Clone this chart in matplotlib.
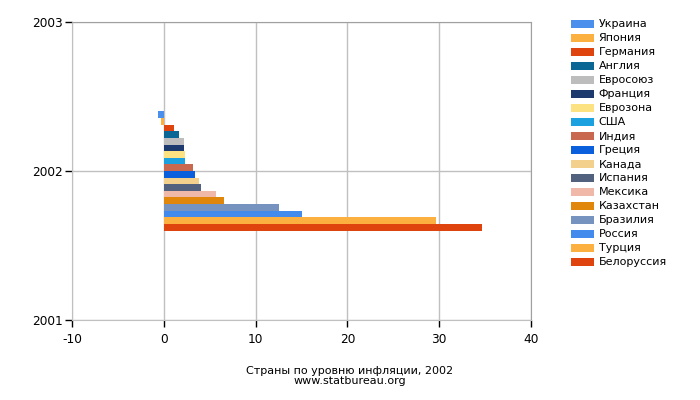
import matplotlib
matplotlib.use("Agg")
import matplotlib.pyplot as plt
from matplotlib.patches import Patch

countries = ["Украина", "Япония", "Германия", "Англия", "Евросоюз", "Франция",
             "Еврозона", "США", "Индия", "Греция", "Канада", "Испания",
             "Мексика", "Казахстан", "Бразилия", "Россия", "Турция", "Белоруссия"]
values = [-0.6, -0.3, 1.1, 1.7, 2.2, 2.2, 2.3, 2.3, 3.2, 3.4, 3.8, 4.0,
          5.7, 6.6, 12.5, 15.1, 29.7, 34.7]
colors = ["#4a8fec", "#fbb040", "#e0440e", "#0a6694", "#bdbdbd", "#1c3a6e",
          "#fde282", "#1ba0e0", "#c8694f", "#0a5fdc", "#f3d08c", "#52627e",
          "#f0b8a8", "#e0860a", "#7693c0", "#428bec", "#fbb040", "#e0440e"]
year = 2002
x_ticks = [-10, 0, 10, 20, 30, 40]
y_ticks = [2001, 2002, 2003]

fig = plt.figure(figsize=(7, 4), dpi=100)
ax = fig.add_axes([72/700, 1 - 320/400, (531-72)/700, (320-22)/400])

n = len(values)
group = 0.8
h = group / n
for i, (c, v, col) in enumerate(zip(countries, values, colors)):
    y = year + group/2 - (i + 0.5) * h
    ax.barh(y, v, height=h, color=col, linewidth=0, zorder=3)

ax.set_xlim(-10, 40)
ax.set_ylim(2001, 2003)
ax.set_xticks(x_ticks)
ax.set_xticklabels([str(t) for t in x_ticks])
ax.set_yticks(y_ticks)
ax.set_yticklabels([str(t) for t in y_ticks])
ax.grid(True, color="#c0c0c0", linewidth=1, zorder=0)
for s in ["left", "bottom"]:
    ax.spines[s].set_color("#c0c0c0")
for s in ["top", "right"]:
    ax.spines[s].set_color("#a0a0a0")
ax.tick_params(axis="both", direction="out", length=5, width=1, color="black",
               labelsize=8.7)
ax.tick_params(axis="y", pad=1.5)
ax.tick_params(axis="x", pad=4.5)

handles = [Patch(facecolor=col, edgecolor="none", label=c) for c, col in zip(countries, colors)]
leg = fig.legend(handles=handles, loc="upper left", bbox_to_anchor=(567/700, 1 - 15/400),
                 frameon=False, fontsize=8, handlelength=2.0, handleheight=0.75,
                 handletextpad=0.45, labelspacing=0.36, borderaxespad=0)

fig.text(350/700, 1 - 371/400, "Страны по уровню инфляции, 2002", ha="center", va="center", fontsize=8)
fig.text(350/700, 1 - 381/400, "www.statbureau.org", ha="center", va="center", fontsize=8)

fig.savefig("out.png", dpi=100)
